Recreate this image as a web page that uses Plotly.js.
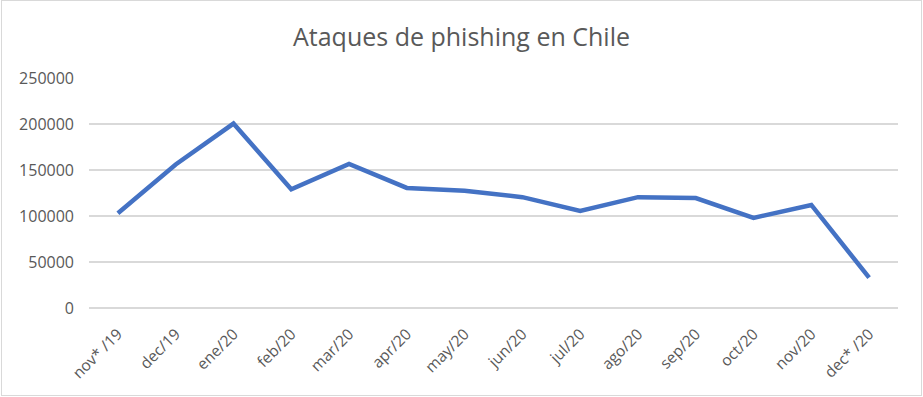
<!DOCTYPE html>
<html>
<head>
<meta charset="utf-8">
<script src="https://cdn.plot.ly/plotly-3.0.1.min.js"></script>
<style>
html,body{margin:0;padding:0;background:#fff;}
#wrap{position:relative;width:923px;height:397px;}
#chart{width:923px;height:397px;}
#frame{position:absolute;left:1px;top:0px;width:919px;height:394px;border:1px solid #d9d9d9;pointer-events:none;}
</style>
</head>
<body>
<div id="wrap"><div id="chart"></div><div id="frame"></div></div>
<script>
const months = ["nov* /19","dec/19","ene/20","feb/20","mar/20","apr/20","may/20","jun/20","jul/20","ago/20","sep/20","oct/20","nov/20","dec* /20"];
const ataques = [103000,156000,200500,129000,156500,130500,127500,120500,105500,120500,119500,98000,112000,33000];
const yTicks = [0,50000,100000,150000,200000,250000];

Plotly.newPlot('chart', [{
  x: months,
  y: ataques,
  type: 'scatter',
  mode: 'lines',
  line: {color: '#4472C4', width: 4.5},
  hoverinfo: 'x+y'
}], {
  width: 923,
  height: 397,
  margin: {l: 89, r: 25, t: 78, b: 89},
  paper_bgcolor: '#ffffff',
  plot_bgcolor: '#ffffff',
  showlegend: false,
  title: {
    text: 'Ataques de phishing en Chile',
    font: {family: 'Open Sans, sans-serif', size: 25, color: '#595959'},
    x: 0.5, xanchor: 'center', y: 0.905, yanchor: 'middle'
  },
  xaxis: {
    type: 'category',
    range: [-0.5, 13.5],
    tickangle: -45,
    showgrid: false,
    zeroline: false,
    showline: false,
    ticks: '',
    ticklabelstandoff: 13,
    tickfont: {family: 'Open Sans, sans-serif', size: 15.5, color: '#595959'}
  },
  yaxis: {
    range: [0, 250000],
    tickvals: yTicks,
    ticktext: yTicks.map(String),
    showgrid: true,
    gridcolor: '#d9d9d9',
    gridwidth: 2,
    zeroline: true,
    zerolinecolor: '#d9d9d9',
    zerolinewidth: 2,
    showline: false,
    ticks: '',
    ticklabelstandoff: 14,
    tickfont: {family: 'Open Sans, sans-serif', size: 16, color: '#595959'}
  }
}, {displayModeBar: false, staticPlot: true});
</script>
</body>
</html>
